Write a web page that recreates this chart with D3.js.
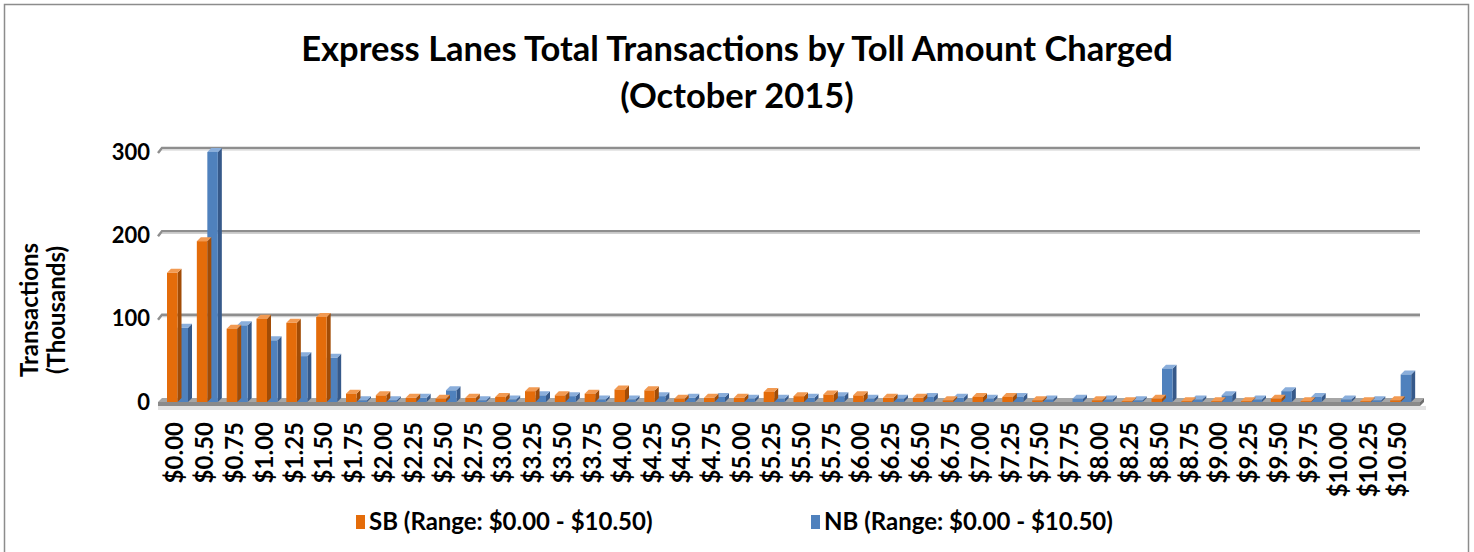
<!DOCTYPE html>
<html><head><meta charset="utf-8">
<script src="https://cdn.jsdelivr.net/npm/d3@7/dist/d3.min.js"></script>
<style>body{margin:0;background:#fff;} svg{display:block;}</style>
</head><body>
<svg id="c" width="1474" height="552"></svg>
<script>
const categories = ["$0.00","$0.50","$0.75","$1.00","$1.25","$1.50","$1.75","$2.00","$2.25","$2.50","$2.75","$3.00","$3.25","$3.50","$3.75","$4.00","$4.25","$4.50","$4.75","$5.00","$5.25","$5.50","$5.75","$6.00","$6.25","$6.50","$6.75","$7.00","$7.25","$7.50","$7.75","$8.00","$8.25","$8.50","$8.75","$9.00","$9.25","$9.50","$9.75","$10.00","$10.25","$10.50"];
const sbValues = [155,193,88,100,95,102,10,8,5,4,5,6,13,8,10,15,14,4,5,5,12,7,9,8,5,5,2,6,6,2,0,2,1,4,1,1,1,4,1,0,1,2];
const nbValues = [89,300,92,74,55,53,2,2,5,14,2,3,8,7,3,3,7,5,6,4,4,5,7,4,4,6,5,4,6,3,4,3,2,40,3,8,3,13,6,3,2,33];
const yTicks = [0,100,200,300];
const seriesNames = ["SB (Range: $0.00 - $10.50)","NB (Range: $0.00 - $10.50)"];
const colors = {SB:{front:"#E46C0A",side:"#A24C06",top:"#F29A52"}, NB:{front:"#4F81BD",side:"#36598A",top:"#8AAEDB"}};

const svg = d3.select("#c");
const FONT = "Lato, 'Open Sans', sans-serif";
const dx = 4, dy = 4;

svg.append("rect").attr("x",4.5).attr("y",4.5).attr("width",1464).attr("height",560)
  .attr("fill","#fff").attr("stroke","#8c8c8c").attr("stroke-width",1.5);

const x = d3.scaleBand().domain(categories).range([160,1413]).paddingInner(0).paddingOuter(0);
const y = d3.scaleLinear().domain([0,300]).range([402,152]);

// gridlines (back wall)
const gx0 = 162, gx1 = 1420;
yTicks.forEach(t=>{
  const gy = y(t)-dy;
  if(t>0){
    svg.append("path").attr("d",`M${gx0-dx},${gy+dy+1} L${gx0},${gy} L${gx1},${gy}`)
      .attr("fill","none").attr("stroke","#8e8e8e").attr("stroke-width",2.5);
    svg.append("path").attr("d",`M${gx0},${gy+2} L${gx1},${gy+2}`)
      .attr("fill","none").attr("stroke","#d0d0d0").attr("stroke-width",1.2);
  }
});
// floor
const fy = y(0);
svg.append("path").attr("d",`M${gx0-dx},${fy} L${gx0},${fy-dy} L${gx1+4},${fy-dy} L${gx1},${fy} Z`).attr("fill","#a6a6a6");
svg.append("path").attr("d",`M${gx0-dx},${fy} L${gx1},${fy} L${gx1},${fy+4} L${gx0-dx},${fy+4} Z`).attr("fill","#8a8a8a");
svg.append("path").attr("d",`M${gx1},${fy} L${gx1+4},${fy-dy} L${gx1+4},${fy} L${gx1},${fy+4} Z`).attr("fill","#6f6f6f");
svg.append("rect").attr("x",gx0-dx).attr("y",fy+4).attr("width",gx1-gx0+dx+6).attr("height",4).attr("fill","#e3e3e3");

// bars
const bw = 10.5;
function bar(g, xl, v, c){
  const yt = y(v), yb = y(0);
  if(v<=0) return;
  g.append("path").attr("d",`M${xl+bw},${yb} L${xl+bw+dx},${yb-dy} L${xl+bw+dx},${yt-dy} L${xl+bw},${yt} Z`).attr("fill",c.side);
  g.append("path").attr("d",`M${xl},${yt} L${xl+dx},${yt-dy} L${xl+bw+dx},${yt-dy} L${xl+bw},${yt} Z`).attr("fill",c.top);
  g.append("rect").attr("x",xl).attr("y",yt).attr("width",bw).attr("height",Math.max(0,yb-yt)).attr("fill",c.front);
}
const gb = svg.append("g");
categories.forEach((cat,i)=>{
  const x0 = x(cat)+7;
  bar(gb, x0+bw, nbValues[i], colors.NB);
  bar(gb, x0, sbValues[i], colors.SB);
});

// y axis labels
const yAxis = d3.axisLeft(y).tickValues(yTicks).tickSize(0).tickPadding(0).tickFormat(d3.format("d"));
const ya = svg.append("g").attr("transform","translate(150,0)").call(yAxis);
ya.select(".domain").remove();
ya.selectAll("text").attr("font-family",FONT).attr("font-weight","bold").attr("font-size",22).attr("fill","#000");

// x axis labels
const xAxis = d3.axisBottom(x).tickSize(0).tickPadding(0);
const xa = svg.append("g").attr("transform","translate(0,416)").call(xAxis);
xa.select(".domain").remove();
xa.selectAll("text").attr("font-family",FONT).attr("font-weight","bold").attr("font-size",24).attr("fill","#000")
  .attr("transform","rotate(-90)").attr("text-anchor","end").attr("dy","0.35em").attr("x",-6).attr("y",0);

// axis title
const at = svg.append("text").attr("transform","translate(43,310) rotate(-90)").attr("text-anchor","middle")
  .attr("font-family",FONT).attr("font-weight","bold").attr("font-size",24).attr("fill","#000");
at.append("tspan").attr("x",0).attr("y",-5).text("Transactions");
at.append("tspan").attr("x",0).attr("y",22).text("(Thousands)");

// title
svg.append("text").attr("x",737).attr("y",61).attr("text-anchor","middle").attr("font-family",FONT)
  .attr("font-weight","bold").attr("font-size",34.5).attr("fill","#000").text("Express Lanes Total Transactions by Toll Amount Charged");
svg.append("text").attr("x",737).attr("y",108).attr("text-anchor","middle").attr("font-family",FONT)
  .attr("font-weight","bold").attr("font-size",34.5).attr("fill","#000").text("(October 2015)");

// legend
const legX = [356, 811];
["SB","NB"].forEach((k,i)=>{
  svg.append("rect").attr("x",legX[i]).attr("y",515).attr("width",9).attr("height",14).attr("fill",colors[k].front);
  svg.append("text").attr("x",legX[i]+13).attr("y",530).attr("font-family",FONT).attr("font-weight","bold")
    .attr("font-size",24).attr("fill","#000").text(seriesNames[i]);
});
</script>
</body></html>
